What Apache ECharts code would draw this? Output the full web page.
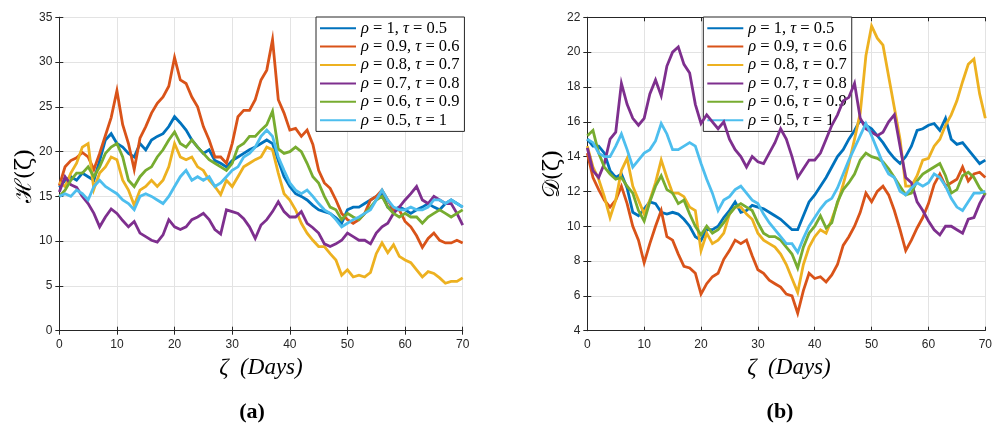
<!DOCTYPE html>
<html>
<head>
<meta charset="utf-8">
<script src="https://cdn.jsdelivr.net/npm/echarts@6/dist/echarts.min.js"></script>
<style>
  html, body { margin: 0; padding: 0; background: #ffffff; }
  #chart { width: 995px; height: 428px; }
</style>
</head>
<body>
<div id="chart"></div>
<script>
// Time axis (days) shared by every path
const days = [0,1,2,3,4,5,6,7,8,9,10,11,12,13,14,15,16,17,18,19,20,21,22,23,24,25,26,27,28,29,30,31,32,33,34,35,36,37,38,39,40,41,42,43,44,45,46,47,48,49,50,51,52,53,54,55,56,57,58,59,60,61,62,63,64,65,66,67,68,69,70];

const seriesNames = ['rho1_tau05', 'rho09_tau06', 'rho08_tau07', 'rho07_tau08', 'rho06_tau09', 'rho05_tau1'];
const legendRho = ['1', '0.9', '0.8', '0.7', '0.6', '0.5'];
const legendTau = ['0.5', '0.6', '0.7', '0.8', '0.9', '1'];

// Panel (a): H(zeta)
const hRho1 = [16.0,16.8,17.2,16.8,17.6,17.2,16.8,19.0,21.3,22.0,20.9,20.5,19.8,19.4,20.9,20.2,21.3,21.7,22.0,22.8,23.9,23.2,22.4,21.3,20.5,19.8,20.2,19.0,18.7,18.3,19.0,19.4,19.8,20.2,20.5,20.9,21.3,20.9,19.0,17.2,16.1,15.3,15.0,14.6,14.0,13.5,13.3,13.1,12.6,12.0,13.5,13.8,13.8,14.2,14.6,15.0,15.3,13.8,13.5,13.8,13.5,13.1,13.5,13.8,14.2,13.8,13.5,14.2,14.6,14.2,13.8];
const hRho09 = [16.2,18.3,19.0,19.3,19.9,19.4,18.0,19.8,21.8,23.8,26.8,23.0,20.9,18.0,21.5,22.8,24.3,25.4,26.1,27.3,30.5,28.0,27.6,26.1,25.0,22.8,21.3,19.4,19.4,18.7,20.9,23.9,24.6,24.6,25.8,28.0,29.1,32.5,25.8,24.3,22.4,22.6,21.7,22.4,20.8,17.9,16.5,15.9,14.6,13.1,12.4,12.0,12.4,13.1,14.6,15.0,15.7,14.6,13.5,13.5,12.2,11.6,10.6,9.3,10.3,10.9,10.1,9.8,9.8,10.1,9.8];
const hRho08 = [16.6,16.1,17.6,18.7,20.5,20.9,15.8,17.6,18.3,19.4,19.1,16.8,15.7,14.0,15.7,16.1,16.8,16.1,16.8,18.3,20.9,19.4,19.1,19.4,18.3,17.9,16.8,16.1,15.2,16.8,16.1,17.2,18.3,18.7,19.1,19.4,20.5,20.2,17.6,15.3,14.6,13.5,12.0,10.9,10.1,9.4,9.4,8.6,7.9,6.2,6.8,6.0,6.2,6.0,6.5,8.6,9.8,8.7,9.6,8.3,7.9,7.6,6.8,6.0,6.6,6.4,5.9,5.3,5.5,5.5,5.9];
const hRho07 = [15.5,17.2,16.3,16.0,15.0,14.2,13.1,11.6,12.7,13.6,13.1,12.3,11.6,12.2,10.9,10.5,10.1,9.9,10.7,12.4,11.6,11.3,11.6,12.4,12.7,13.1,12.4,11.3,10.8,13.5,13.3,13.1,12.5,11.6,10.3,11.8,12.4,13.3,14.4,13.3,12.7,12.7,13.3,12.0,11.5,10.9,9.7,9.4,9.7,10.1,10.9,10.5,10.1,10.1,9.7,10.9,11.6,12.0,13.1,13.8,14.6,15.3,16.1,14.6,14.2,15.0,14.6,14.2,14.2,13.1,11.8];
const hRho06 = [15.0,15.7,16.8,17.6,17.6,18.3,17.2,18.3,19.8,20.5,20.9,19.4,16.8,16.1,17.2,17.9,18.3,19.4,20.2,21.3,22.2,20.9,20.5,21.3,20.5,19.8,19.1,18.7,18.3,17.9,18.7,20.5,20.9,21.7,21.7,22.4,23.0,24.5,20.3,19.8,20.0,20.5,20.0,18.7,17.2,16.5,15.0,13.8,13.5,12.4,13.1,12.7,12.4,13.1,13.8,14.6,15.0,13.8,13.1,12.7,13.1,12.7,12.7,12.0,12.7,13.1,13.5,13.1,12.7,13.1,13.5];
const hRho05 = [15.0,15.3,15.0,15.7,15.3,14.6,16.1,16.8,16.1,15.7,15.3,14.6,14.2,13.5,15.0,15.3,15.0,14.6,14.2,15.0,16.1,17.2,17.9,16.8,17.2,16.8,17.2,16.1,16.5,17.2,17.9,18.3,19.4,19.8,20.5,21.7,22.4,21.7,19.4,17.9,16.5,15.7,15.3,15.7,15.0,14.2,13.5,13.1,12.4,11.6,12.0,12.4,12.7,13.1,13.5,14.6,15.7,14.6,13.8,13.5,13.5,13.8,13.5,13.5,13.8,14.6,14.6,14.2,14.6,14.2,13.8];

// Panel (b): D(zeta)
const dRho1 = [15.0,14.6,14.6,14.2,13.2,12.8,13.0,12.2,10.8,10.6,11.0,11.4,11.3,10.8,10.7,10.8,10.7,10.4,10.0,9.4,9.2,9.8,9.8,10.0,10.5,10.9,11.4,10.8,10.9,11.2,11.1,11.0,10.8,10.6,10.4,10.1,9.8,9.8,10.6,11.4,11.8,12.3,12.8,13.4,14.0,14.4,15.0,15.5,16.1,15.8,15.6,15.2,14.8,14.3,13.9,13.6,14.0,14.6,15.5,15.6,15.8,15.9,15.5,16.2,15.0,14.7,14.8,14.4,14.0,13.6,13.8];
const dRho09 = [14.2,12.8,12.1,11.5,11.1,11.5,12.3,11.3,10.0,9.2,7.9,9.0,10.0,10.9,9.4,9.2,8.4,7.7,7.6,7.3,6.1,6.7,7.1,7.3,8.1,8.6,9.2,9.0,9.2,8.3,7.5,7.3,6.9,6.7,6.5,6.1,6.0,5.0,6.3,7.3,7.0,7.1,6.8,7.2,7.8,8.9,9.4,10.0,10.8,11.9,11.4,12.0,12.3,11.8,10.9,9.8,8.6,9.2,9.9,10.5,11.3,12.4,13.0,12.3,12.5,12.7,13.4,12.6,13.0,13.1,12.8];
const dRho08 = [14.6,13.4,12.7,11.7,10.5,11.5,13.2,13.9,12.3,11.5,10.7,11.5,12.5,13.8,12.8,11.9,11.9,11.7,11.1,10.9,8.6,9.6,9.0,9.2,9.6,10.7,11.1,11.1,10.7,10.4,9.6,9.2,9.0,8.8,8.4,7.8,7.0,6.2,7.8,8.8,9.4,9.8,9.6,10.4,11.3,12.4,13.6,15.0,16.5,19.8,21.5,20.8,20.4,18.6,16.8,15.0,12.3,12.3,12.9,13.8,13.9,14.6,15.0,15.8,16.4,17.2,18.3,19.3,19.6,17.6,16.2];
const dRho07 = [14.5,13.2,12.8,13.6,15.0,15.4,18.2,17.0,16.2,15.8,16.2,17.6,18.4,17.5,19.2,20.0,20.3,19.3,18.8,17.0,15.9,16.4,16.0,15.6,16.0,15.0,14.4,14.0,13.4,14.0,13.7,13.6,14.2,14.8,15.6,15.0,14.0,12.8,13.3,13.8,13.8,14.2,15.0,15.8,16.4,17.2,17.4,18.2,16.2,15.6,15.4,15.2,15.4,16.0,16.4,14.6,12.8,12.5,11.4,10.9,10.3,9.8,9.5,10.0,10.0,9.8,9.6,10.4,10.5,11.3,11.9];
const dRho06 = [15.2,15.5,14.2,13.4,13.0,12.7,12.8,12.3,11.9,10.9,10.3,11.4,12.3,12.9,12.1,11.9,11.3,11.5,10.7,10.0,9.5,10.0,9.6,9.8,10.2,10.7,11.1,11.3,11.1,10.9,10.2,9.6,9.4,9.4,9.2,8.8,8.4,7.6,8.8,9.6,10.0,10.6,9.9,10.2,11.4,12.1,12.5,13.0,13.8,14.2,14.0,13.9,13.7,13.3,12.8,12.3,11.8,11.9,12.6,13.0,13.2,13.4,13.6,12.9,11.9,12.1,12.9,13.1,12.8,12.2,11.8];
const dRho05 = [15.0,14.8,14.2,14.0,14.0,14.6,15.3,14.4,13.4,13.8,14.2,14.4,14.9,15.9,15.3,14.4,14.4,14.6,14.8,14.6,13.6,12.7,11.9,10.9,11.5,11.7,12.1,12.3,11.9,11.5,11.3,10.7,10.2,9.8,9.4,9.0,9.0,8.5,9.3,10.0,10.5,11.0,11.4,11.6,12.2,13.0,13.8,14.5,15.2,15.9,15.2,14.4,13.6,13.0,12.8,12.0,11.8,12.2,12.5,12.3,12.5,13.0,12.8,12.3,11.6,11.1,10.9,11.4,11.9,11.9,12.0];

// Tick labels
const hTicks = [0, 5, 10, 15, 20, 25, 30, 35];
const dTicks = [4, 6, 8, 10, 12, 14, 16, 18, 20, 22];
const dayTicks = [0, 10, 20, 30, 40, 50, 60, 70];

const palette = ['#0072BD', '#D95319', '#EDB120', '#7E2F8E', '#77AC30', '#4DBEEE'];
const panelA = [hRho1, hRho09, hRho08, hRho07, hRho06, hRho05];
const panelB = [dRho1, dRho09, dRho08, dRho07, dRho06, dRho05];

const axisColor = '#262626';
const gridColor = '#e3e3e3';
const tickFont = { color: '#262626', fontSize: 12, fontFamily: 'Liberation Sans, Arial, sans-serif' };

const grids = [
  { left: 59.3, right: 532.3, top: 17.3, bottom: 97.3 },
  { left: 587.3, right: 4, top: 17.3, bottom: 97.3 }
];

function xAxes(gridIndex) {
  const base = {
    type: 'value', gridIndex, min: dayTicks[0], max: dayTicks[dayTicks.length - 1], interval: 10,
    axisLine: { show: true, lineStyle: { color: axisColor, width: 1 } },
    axisTick: { show: true, inside: true, length: 4, lineStyle: { color: axisColor } }
  };
  return [
    Object.assign({}, base, {
      position: 'bottom',
      axisLabel: Object.assign({ margin: 8 }, tickFont),
      splitLine: { show: true, lineStyle: { color: gridColor, width: 1 } }
    }),
    Object.assign({}, base, {
      position: 'top',
      axisLabel: { show: false },
      splitLine: { show: false }
    })
  ];
}

function yAxes(gridIndex, ticks) {
  const base = {
    type: 'value', gridIndex, min: ticks[0], max: ticks[ticks.length - 1], interval: ticks[1] - ticks[0],
    axisLine: { show: true, lineStyle: { color: axisColor, width: 1 } },
    axisTick: { show: true, inside: true, length: 4, lineStyle: { color: axisColor } }
  };
  return [
    Object.assign({}, base, {
      position: 'left',
      axisLabel: Object.assign({ margin: 7 }, tickFont),
      splitLine: { show: true, lineStyle: { color: gridColor, width: 1 } }
    }),
    Object.assign({}, base, {
      position: 'right',
      axisLabel: { show: false },
      splitLine: { show: false }
    })
  ];
}

function buildSeries(panel, xIndex, yIndex, suffix) {
  return panel.map((vals, i) => ({
    name: seriesNames[i] + suffix,
    type: 'line',
    xAxisIndex: xIndex,
    yAxisIndex: yIndex,
    data: days.map((d, k) => [d, vals[k]]),
    symbol: 'none',
    smooth: false,
    animation: false,
    lineStyle: { color: palette[i], width: 2.8, join: 'miter' },
    itemStyle: { color: palette[i] },
    z: 2 + i
  }));
}

function legendFor(suffix, left) {
  return {
    orient: 'vertical',
    left: left,
    top: 17,
    data: seriesNames.map(n => n + suffix),
    icon: 'path://M0,0 L36,0 L36,2 L0,2 Z',
    itemWidth: 36,
    itemHeight: 2,
    itemGap: 0,
    padding: [2, 5, 2, 4],
    backgroundColor: '#ffffff',
    borderColor: '#262626',
    borderWidth: 1,
    borderRadius: 0,
    itemStyle: { borderWidth: 0 },
    formatter: function (name) {
      const idx = seriesNames.findIndex(n => name === n + suffix);
      return '{i|ρ} = ' + legendRho[idx] + ', {i|τ} = ' + legendTau[idx];
    },
    textStyle: {
      fontFamily: 'Liberation Serif, serif',
      fontSize: 16.5,
      color: '#000000',
      lineHeight: 18.4,
      rich: {
        i: { fontStyle: 'italic', fontFamily: 'Liberation Serif, serif', fontSize: 16.5, lineHeight: 18.4 }
      }
    },
    itemTextGap: 5,
    selectedMode: false
  };
}

const chart = echarts.init(document.getElementById('chart'), null, { renderer: 'canvas' });

const axisNameFont = 'italic 23px "Liberation Serif", serif';
const yNameFont = '23px "DejaVu Serif", "Liberation Serif", serif';

const option = {
  backgroundColor: '#ffffff',
  animation: false,
  grid: grids,
  xAxis: [].concat(xAxes(0), xAxes(1)),
  yAxis: [].concat(yAxes(0, hTicks), yAxes(1, dTicks)),
  legend: [legendFor('_a', 316), legendFor('_b', 703.3)],
  series: [].concat(buildSeries(panelA, 0, 0, '_a'), buildSeries(panelB, 2, 2, '_b')),
  graphic: [
    { type: 'text', style: { text: 'ζ  (Days)', x: 261, y: 368, textAlign: 'center', textVerticalAlign: 'middle', font: axisNameFont, fill: '#000' } },
    { type: 'text', style: { text: 'ζ  (Days)', x: 789, y: 368, textAlign: 'center', textVerticalAlign: 'middle', font: axisNameFont, fill: '#000' } },
    { type: 'text', x: 25, y: 176, rotation: Math.PI / 2, style: { text: 'ℋ(ζ)', x: 0, y: 0, textAlign: 'center', textVerticalAlign: 'middle', font: yNameFont, fill: '#000' } },
    { type: 'text', x: 553, y: 174, rotation: Math.PI / 2, style: { text: '𝒟(ζ)', x: 0, y: 0, textAlign: 'center', textVerticalAlign: 'middle', font: yNameFont, fill: '#000' } },
    { type: 'text', style: { text: '(a)', x: 252, y: 412, textAlign: 'center', textVerticalAlign: 'middle', font: 'bold 22px "Liberation Serif", serif', fill: '#000' } },
    { type: 'text', style: { text: '(b)', x: 780, y: 412, textAlign: 'center', textVerticalAlign: 'middle', font: 'bold 22px "Liberation Serif", serif', fill: '#000' } }
  ]
};

chart.setOption(option);
</script>
</body>
</html>
